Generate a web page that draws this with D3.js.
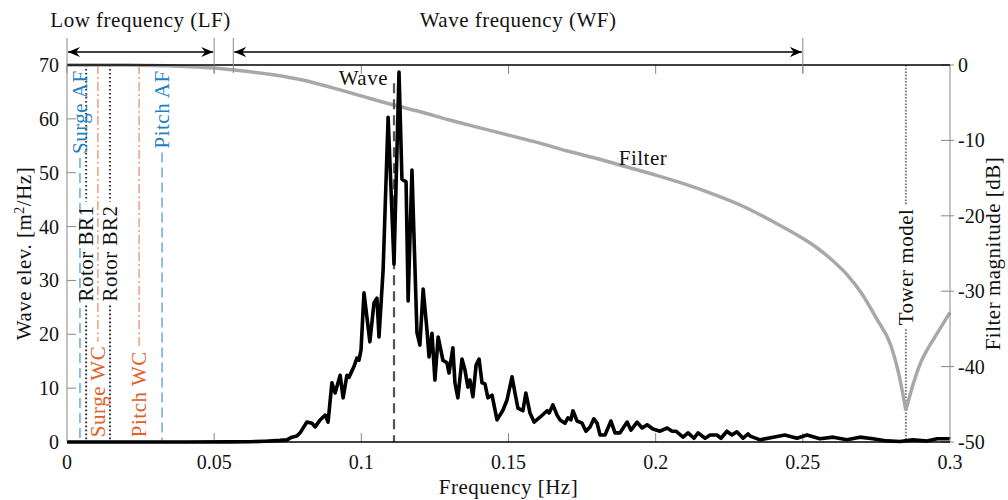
<!DOCTYPE html>
<html>
<head>
<meta charset="utf-8">
<script src="https://cdn.jsdelivr.net/npm/d3@7"></script>
<style>
body{margin:0;background:#fff;}
svg text{font-family:"Liberation Serif",serif;font-size:21px;letter-spacing:0.5px;fill:#111;}
svg text.tick{font-size:20px;letter-spacing:0;}
</style>
</head>
<body>
<svg id="chart" width="1008" height="500"></svg>
<script>
// wave elevation spectrum [m^2/Hz]
const specF = [0,0.02,0.04,0.055,0.0622,0.0673,0.0724,0.0747,0.0764,0.0781,0.0792,0.0815,0.0832,0.0843,0.086,0.0877,0.0887,0.09,0.0911,0.0928,0.0938,0.0951,0.0958,0.0975,0.0985,0.0992,0.0999,0.1009,0.1029,0.1043,0.1053,0.106,0.1074,0.1091,0.1111,0.1128,0.1138,0.1152,0.1159,0.1172,0.1189,0.1199,0.121,0.1223,0.123,0.124,0.125,0.1261,0.1277,0.1291,0.1298,0.1311,0.1318,0.1328,0.1342,0.1352,0.1362,0.1369,0.1379,0.139,0.14,0.141,0.142,0.143,0.1444,0.1461,0.1481,0.1495,0.1512,0.1522,0.1532,0.1549,0.1559,0.1573,0.1587,0.1607,0.1631,0.1638,0.1651,0.1665,0.1675,0.1692,0.1702,0.1712,0.1719,0.1733,0.175,0.1763,0.1777,0.179,0.1801,0.1811,0.1828,0.1848,0.1862,0.1879,0.1903,0.1916,0.1937,0.1954,0.1971,0.1991,0.2015,0.2039,0.2056,0.2069,0.2093,0.211,0.213,0.2144,0.2168,0.2185,0.2208,0.2222,0.2242,0.2259,0.2276,0.2297,0.2314,0.2321,0.2355,0.2399,0.2439,0.248,0.2514,0.2558,0.2603,0.265,0.2694,0.2738,0.2786,0.283,0.2874,0.2922,0.2956,0.2997,0.3];
const specV = [0,0,0,0.02,0.05,0.15,0.3,0.4,0.9,1.1,1.7,3.7,3.5,2.8,4.1,5.0,3.7,11.0,9.1,12.4,8.2,12.4,12.0,14.0,15.6,15.2,17.1,27.7,18.6,25.8,26.7,19.5,31.9,60.3,33.0,68.7,48.8,48.3,26.2,50.5,20.3,18.0,28.4,20.8,15.8,20.2,11.5,19.5,15.2,14.7,12.8,17.5,11.0,8.2,15.4,13.4,10.2,11.5,8.4,14.3,15.4,11.0,10.8,8.2,8.7,4.1,5.9,7.8,12.1,9.1,6.3,5.8,9.1,5.4,3.7,4.6,5.8,5.4,6.9,5.0,4.1,3.5,4.5,4.1,5.8,3.9,3.5,2.0,2.8,4.3,3.5,1.3,1.3,3.9,1.7,1.7,3.7,2.2,3.7,2.6,3.2,2.4,2.0,2.6,2.0,2.0,0.9,1.7,0.7,1.7,0.7,1.3,1.3,0.7,2.0,1.3,1.9,0.7,1.5,1.1,0.4,0.9,1.3,0.7,1.3,0.6,0.9,0.4,0.9,0.6,0.2,0.1,0.4,0.2,0.6,0.6,0.5];

// filter magnitude [dB]; the notch sits at filtNotch
const filtF = [0,0.02,0.04,0.05,0.06,0.07,0.08,0.09,0.1,0.11,0.12,0.13,0.14,0.15,0.16,0.17,0.18,0.19,0.2,0.21,0.22,0.23,0.24,0.25,0.255,0.26,0.265,0.27,0.275,0.28,0.2825,0.285,0.2875,0.29,0.2925,0.295,0.2975,0.3];
const filtDb = [0,0,-0.2,-0.4,-0.8,-1.3,-2.0,-3.0,-4.1,-5.2,-6.2,-7.3,-8.3,-9.3,-10.3,-11.4,-12.4,-13.5,-14.6,-15.8,-17.2,-18.8,-20.8,-23.0,-24.3,-25.9,-27.8,-30.3,-33.6,-37.3,-40.8,-45.8,-42.3,-39.5,-37.6,-36.0,-34.4,-32.8];
const filtNotch = 0.285;

// vertical markers
const markNames = ["Surge AF","Rotor BR1","Surge WC","Rotor BR2","Pitch WC","Pitch AF","Tower model"];
const markF = [0.0044,0.0065,0.0105,0.0146,0.0245,0.0323,0.285];
const markKind = ["af","br","wc","br","wc","af","tower"];
const waveF = 0.1111;

// frequency bands
const bandNames = ["Low frequency (LF)","Wave frequency (WF)"];
const bandStart = [0,0.0565];
const bandEnd = [0.05,0.25];

const xTicks = [0,0.05,0.1,0.15,0.2,0.25,0.3];
const yTicks = [0,10,20,30,40,50,60,70];
const dbTicks = [0,-10,-20,-30,-40,-50];

const svg = d3.select("#chart");
const M = {left:67,right:950,top:65,bottom:442};
const x = d3.scaleLinear().domain([0,0.3]).range([M.left,M.right]);
const y = d3.scaleLinear().domain([0,70]).range([M.bottom,M.top]);
const yR = d3.scaleLinear().domain([-50,0]).range([M.bottom,M.top]);

const styles = {
  af:{stroke:"#6fb0e0",text:"#1f7fc6",dash:"10,5",w:1.6,anchor:"end",at:69},
  br:{stroke:"#333",text:"#111",dash:"1.6,2.4",w:2,anchor:"middle",at:35},
  wc:{stroke:"#e8926c",text:"#e0602a",dash:"9,3,2,3",w:1.3,anchor:"start",at:0.9},
  tower:{stroke:"#777",text:"#111",dash:"1.6,1.6",w:2,anchor:"middle",at:32.5}
};

// axes ticks (inward)
const tickCol = "#888";
svg.append("g").selectAll("line").data(xTicks.slice(1,-1)).join("line")
  .attr("x1",d=>x(d)).attr("x2",d=>x(d)).attr("y1",M.bottom).attr("y2",M.bottom-9)
  .attr("stroke",tickCol).attr("stroke-width",1);
svg.append("g").selectAll("line").data(xTicks.slice(1,-1)).join("line")
  .attr("x1",d=>x(d)).attr("x2",d=>x(d)).attr("y1",M.top).attr("y2",M.top+9)
  .attr("stroke",tickCol).attr("stroke-width",1);
svg.append("g").selectAll("line").data(yTicks).join("line")
  .attr("x1",M.left).attr("x2",M.left+9).attr("y1",d=>y(d)).attr("y2",d=>y(d))
  .attr("stroke",tickCol).attr("stroke-width",1);
svg.append("g").selectAll("line").data(dbTicks).join("line")
  .attr("x1",M.right-9).attr("x2",M.right+4).attr("y1",d=>yR(d)).attr("y2",d=>yR(d))
  .attr("stroke",tickCol).attr("stroke-width",1);

// tick labels
svg.append("g").selectAll("text").data(xTicks).join("text").attr("class","tick")
  .attr("x",d=>x(d)).attr("y",M.bottom+27).attr("text-anchor","middle")
  .text(d=>d);
svg.append("g").selectAll("text").data(yTicks).join("text").attr("class","tick")
  .attr("x",M.left-8).attr("y",d=>y(d)+7).attr("text-anchor","end")
  .text(d=>d);
svg.append("g").selectAll("text").data(dbTicks).join("text").attr("class","tick")
  .attr("x",M.right+8).attr("y",d=>yR(d)+7).attr("text-anchor","start")
  .text(d=>d===0?"0":"-"+Math.abs(d));

// filter curve, drawn as two smooth branches meeting at the notch
const fData = filtF.map((f,i)=>({f,v:filtDb[i]}));
const fLine = d3.line().x(d=>x(d.f)).y(d=>yR(d.v)).curve(d3.curveMonotoneX);
[fData.filter(d=>d.f<=filtNotch), fData.filter(d=>d.f>=filtNotch)].forEach(part=>{
  svg.append("path").datum(part)
    .attr("fill","none").attr("stroke","#a8a8a8").attr("stroke-width",3.5).attr("stroke-linejoin","round")
    .attr("d",fLine);
});
svg.append("text").attr("x",x(0.1957)).attr("y",yR(-13.2)).attr("text-anchor","middle").text("Filter");

// vertical markers with inline labels
markNames.forEach((name,i)=>{
  const s = styles[markKind[i]];
  const px = x(markF[i]);
  const t = svg.append("text")
    .attr("transform",`translate(${px},${y(s.at)}) rotate(-90)`)
    .attr("text-anchor",s.anchor).attr("dominant-baseline","central")
    .style("fill",s.text).text(name);
  const len = t.node().getComputedTextLength();
  let top, bot;
  if(s.anchor==="end"){ top=y(s.at); bot=top+len; }
  else if(s.anchor==="start"){ bot=y(s.at); top=bot-len; }
  else { top=y(s.at)-len/2; bot=y(s.at)+len/2; }
  const segs = [[M.top,top-4],[bot+4,M.bottom]].filter(p=>p[1]-p[0]>2);
  svg.append("g").lower().selectAll("line").data(segs).join("line")
    .attr("x1",px).attr("x2",px).attr("y1",d=>d[0]).attr("y2",d=>d[1])
    .attr("stroke",s.stroke).attr("stroke-width",s.w).attr("stroke-dasharray",s.dash);
});

// wave peak marker
svg.append("line").attr("x1",x(waveF)).attr("x2",x(waveF)).attr("y1",y(66.6)).attr("y2",y(0))
  .attr("stroke","#555").attr("stroke-width",2.2).attr("stroke-dasharray","10,6");
svg.append("text").attr("x",x(waveF)-6).attr("y",y(66.3)).attr("text-anchor","end").text("Wave");

// spectrum
const sData = specF.map((f,i)=>({f,v:specV[i]}));
svg.append("path").datum(sData)
  .attr("fill","none").attr("stroke","#000").attr("stroke-width",3.6).attr("stroke-linejoin","round")
  .attr("d",d3.line().x(d=>x(d.f)).y(d=>y(d.v)));

// frame
svg.append("line").attr("x1",M.left).attr("x2",M.left).attr("y1",M.top).attr("y2",M.bottom).attr("stroke","#888");
svg.append("line").attr("x1",M.right).attr("x2",M.right).attr("y1",M.top).attr("y2",M.bottom).attr("stroke","#888");
svg.append("line").attr("x1",M.left).attr("x2",M.right).attr("y1",M.top).attr("y2",M.top).attr("stroke","#000").attr("stroke-width",1.3);
svg.append("line").attr("x1",M.left).attr("x2",M.right).attr("y1",M.bottom).attr("y2",M.bottom).attr("stroke","#000").attr("stroke-width",1.5);

// band brackets
const defs = svg.append("defs");
["s","e"].forEach(k=>{
  defs.append("marker").attr("id","arr"+k).attr("viewBox","-12 -6 14 12")
    .attr("refX",0).attr("refY",0).attr("markerWidth",14).attr("markerHeight",12)
    .attr("markerUnits","userSpaceOnUse").attr("orient",k==="s"?"auto-start-reverse":"auto")
    .append("path").attr("d","M0,0 L-12,-5 L-8,0 L-12,5 Z").attr("fill","#000");
});
const bandY = 52;
bandNames.forEach((name,i)=>{
  const a = x(bandStart[i]), b = x(bandEnd[i]);
  [a,b].forEach(p=>svg.append("line").attr("x1",p).attr("x2",p).attr("y1",38).attr("y2",M.top+8)
    .attr("stroke","#888").attr("stroke-width",1));
  svg.append("line").attr("x1",a+1).attr("x2",b-1).attr("y1",bandY).attr("y2",bandY)
    .attr("stroke","#000").attr("stroke-width",1.3)
    .attr("marker-start","url(#arrs)").attr("marker-end","url(#arre)");
  svg.append("text").attr("x",(a+b)/2).attr("y",27).attr("text-anchor","middle").text(name);
});

// axis titles
svg.append("text").attr("x",(M.left+M.right)/2).attr("y",494).attr("text-anchor","middle").text("Frequency [Hz]");
const yl = svg.append("text").attr("transform",`translate(31,${(M.top+M.bottom)/2}) rotate(-90)`).attr("text-anchor","middle");
yl.append("tspan").text("Wave elev.  [m");
yl.append("tspan").attr("dy",-7).style("font-size","14px").text("2");
yl.append("tspan").attr("dy",7).text("/Hz]");
svg.append("text").attr("transform",`translate(1000,${(M.top+M.bottom)/2}) rotate(-90)`).attr("text-anchor","middle").text("Filter magnitude [dB]");
</script>
</body>
</html>
